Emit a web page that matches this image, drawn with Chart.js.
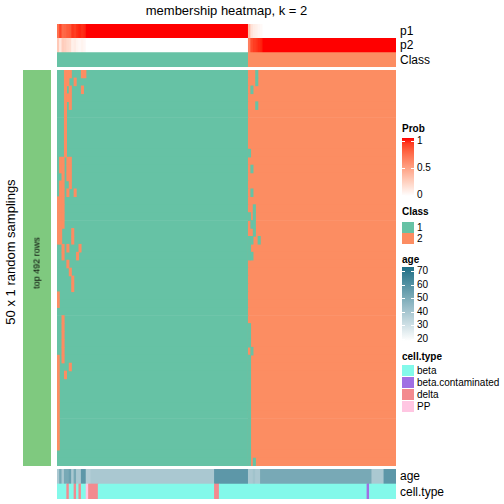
<!DOCTYPE html>
<html>
<head>
<meta charset="utf-8">
<script src="https://cdn.jsdelivr.net/npm/chart.js@4.4.1/dist/chart.umd.min.js"></script>
<style>
  body { margin: 0; width: 504px; height: 504px; background: #fff; position: relative; overflow: hidden;
         font-family: "Liberation Sans", Arial, Helvetica, sans-serif; color: #000; }
  canvas { position: absolute; }
  .t { position: absolute; white-space: nowrap; line-height: 1; }
  .box { position: absolute; }
</style>
</head>
<body>
<canvas id="cTop"  width="339" height="43"  style="left:57px;top:24px"></canvas>
<canvas id="cMain" width="339" height="396" style="left:57px;top:70px"></canvas>
<canvas id="cBot"  width="339" height="30"  style="left:57px;top:469px"></canvas>
<canvas id="cSide" width="28"  height="396" style="left:23px;top:70px"></canvas>
<script>
// ---- data ---------------------------------------------------------------
const N_COLS = 140;
const CLASS_COUNTS = [79, 61];          // samples in class 1, class 2 (left to right)

// membership probability per sample, as [value, run length]
const p1Runs = [[0.72,1],[0.88,1],[0.74,1],[0.76,1],[0.8,1],[0.82,1],[0.92,1],[0.9,1],
                [0.94,1],[0.96,1],[0.94,1],[0.96,1],[1,67],
                [0.35,1],[0.15,1],[0.1,1],[0.08,1],[0.05,1],[0.03,1],[0,55]];
const p2Runs = [[0.28,1],[0.12,1],[0.26,1],[0.24,1],[0.2,1],[0.18,1],[0.08,1],[0.1,1],
                [0.06,1],[0.04,1],[0.06,1],[0.04,1],[0,67],
                [0.65,1],[0.85,1],[0.9,1],[0.92,1],[0.95,1],[0.97,1],[1,55]];

// age per sample, as [age, run length]
const ageRuns = [[39,1],[50,1],[39,1],[50,2],[53,1],[39,1],[50,1],[39,2],[56,2],[37,2],
                 [39,51],[56,14],[39,2],[41,1],[39,2],[50,46],[39,5],[56,5]];

// cell type per sample, as [type, run length]
const cellRuns = [["beta",4],["delta",1],["beta",2],["delta",1],["beta",1],["delta",1],
                  ["beta",2],["PP",1],["delta",4],["beta",48],["delta",2],["beta",61],
                  ["beta.contaminated",1],["beta",11]];

// per random sampling (row): samples whose class differs from the consensus
const rowFlips = [
  [3,4,5,10,11,82], [3,4,7,82], [3,5,10,80], [3,4,5], [3,5,82],
  [3], [3], [3], [3], [3],
  [3,79], [1,2,4,5], [1,2,4,5,80], [2,4,5], [1,2,5],
  [1,2,4,7,80], [0,1,2], [0,1,2,81], [0,1,2,79,81], [0,1,2,80,81],
  [0,1,6,81], [0,1,6,79,80,83], [2,4,9,79], [2,8,79,80], [4],
  [5], [6], [6], [0], [0],
  [], [2], [2,79], [2,79], [2,79],
  [2,80], [0,2,79], [0,5,79], [0,3,79], [0,79],
  [0,79], [0,79], [0,79], [0,79], [0,79],
  [0,79], [0,79], [0,79], [79], [79,81]
];

const CLASS_COLORS = { 1: "#66C2A5", 2: "#FC8D62" };
const CELL_COLORS = { "beta": "#83F9EA", "beta.contaminated": "#A06FE4", "delta": "#F38A8F", "PP": "#FFC6E2" };
const SIDE_COLOR = "#7FC97F";

// ---- colour ramps ---------------------------------------------------------
function toLab(hex) {
  const c = [1, 3, 5].map(i => parseInt(hex.substr(i, 2), 16) / 255)
    .map(v => v <= 0.04045 ? v / 12.92 : Math.pow((v + 0.055) / 1.055, 2.4));
  const X = (0.4124 * c[0] + 0.3576 * c[1] + 0.1805 * c[2]) / 0.95047;
  const Y = 0.2126 * c[0] + 0.7152 * c[1] + 0.0722 * c[2];
  const Z = (0.0193 * c[0] + 0.1192 * c[1] + 0.9505 * c[2]) / 1.08883;
  const f = t => t > 0.008856 ? Math.cbrt(t) : 7.787 * t + 16 / 116;
  return [116 * f(Y) - 16, 500 * (f(X) - f(Y)), 200 * (f(Y) - f(Z))];
}
function fromLab([L, a, b]) {
  const fy = (L + 16) / 116, fx = fy + a / 500, fz = fy - b / 200;
  const inv = t => t ** 3 > 0.008856 ? t ** 3 : (t - 16 / 116) / 7.787;
  const X = inv(fx) * 0.95047, Y = inv(fy), Z = inv(fz) * 1.08883;
  const lin = [3.2406 * X - 1.5372 * Y - 0.4986 * Z,
               -0.9689 * X + 1.8758 * Y + 0.0415 * Z,
               0.0557 * X - 0.2040 * Y + 1.0570 * Z];
  const s = v => { v = Math.min(1, Math.max(0, v));
    return Math.round(255 * (v <= 0.0031308 ? 12.92 * v : 1.055 * Math.pow(v, 1 / 2.4) - 0.055)); };
  return `rgb(${s(lin[0])},${s(lin[1])},${s(lin[2])})`;
}
const LAB_W = toLab("#FFFFFF"), LAB_R = toLab("#FF0000");
const probColor = p => fromLab(LAB_W.map((w, i) => w + (LAB_R[i] - w) * p));

const AGE_MIN = 20, AGE_MAX = 70, AGE_TOP = [30, 111, 134];
function ageColor(a) {
  const t = (a - AGE_MIN) / (AGE_MAX - AGE_MIN);
  const c = AGE_TOP.map(v => Math.round(255 - (255 - v) * t));
  return `rgb(${c.join(",")})`;
}

// ---- build bar tables -------------------------------------------------
function runSegments(runs, row, kind) {
  const segs = []; let start = 0;
  runs.forEach(([v, n]) => { segs.push({ x: [start, start + n], y: row, v, kind }); start += n; });
  return segs;
}
function classSegments(row) {
  const segs = []; let start = 0;
  CLASS_COUNTS.forEach((n, k) => { segs.push({ x: [start, start + n], y: row, v: k + 1, kind: "class" }); start += n; });
  return segs;
}

const topLabels = ["p1", "p2", "Class"];
const topPts = [...runSegments(p1Runs, "p1", "prob"), ...runSegments(p2Runs, "p2", "prob"), ...classSegments("Class")];

const rowLabels = rowFlips.map((_, i) => "sampling " + (i + 1));
const mainPts = [];
rowLabels.forEach(r => mainPts.push(...classSegments(r)));
rowFlips.forEach((cols, i) => cols.forEach(c =>
  mainPts.push({ x: [c, c + 1], y: rowLabels[i], v: c < CLASS_COUNTS[0] ? 2 : 1, kind: "class" })));

const botLabels = ["age", "cell.type"];
const botPts = [...runSegments(ageRuns, "age", "age"), ...runSegments(cellRuns, "cell.type", "cell")];

function cellColor(raw) {
  if (!raw) return "#000";
  if (raw.kind === "prob") return probColor(raw.v);
  if (raw.kind === "class") return CLASS_COLORS[raw.v];
  if (raw.kind === "age") return ageColor(raw.v);
  if (raw.kind === "cell") return CELL_COLORS[raw.v];
  return SIDE_COLOR;
}

function heatChart(id, labels, points, xMax) {
  return new Chart(document.getElementById(id), {
    type: "bar",
    data: {
      labels,
      datasets: [{
        data: points,
        backgroundColor: ctx => cellColor(ctx.raw),
        borderWidth: 0, categoryPercentage: 1, barPercentage: 1, grouped: false,
      }]
    },
    options: {
      indexAxis: "y", responsive: false, animation: false, events: [],
      layout: { padding: 0 },
      plugins: { legend: { display: false }, tooltip: { enabled: false } },
      scales: {
        x: { type: "linear", min: 0, max: xMax, display: false },
        y: { display: false }
      }
    }
  });
}

heatChart("cTop", topLabels, topPts, N_COLS);
heatChart("cMain", rowLabels, mainPts, N_COLS);
heatChart("cBot", botLabels, botPts, N_COLS);
heatChart("cSide", ["top 492 rows"], [{ x: [0, 1], y: "top 492 rows", kind: "side" }], 1);

// ---- text and legends -------------------------------------------------
function text(str, x, y, opts = {}) {
  const d = document.createElement("div");
  d.className = "t";
  d.textContent = str;
  d.style.left = x + "px"; d.style.top = y + "px";
  d.style.fontSize = (opts.size || 10) + "px";
  if (opts.bold) d.style.fontWeight = "bold";
  const tx = opts.center ? "-50%" : "0";
  d.style.transform = `translate(${tx},-50%)` + (opts.rotate ? ` rotate(${opts.rotate}deg)` : "");
  document.body.appendChild(d);
}
function box(x, y, w, h, bg) {
  const d = document.createElement("div");
  d.className = "box";
  Object.assign(d.style, { left: x + "px", top: y + "px", width: w + "px", height: h + "px", background: bg });
  document.body.appendChild(d);
}

text("membership heatmap, k = 2", 226.5, 10, { size: 13, center: true });
text("50 x 1 random samplings", 10, 252, { size: 13, center: true, rotate: -90 });
text("top 492 rows", 37, 263, { size: 9, center: true, rotate: -90 });

[["p1", 31], ["p2", 45], ["Class", 60], ["age", 476], ["cell.type", 491.5]]
  .forEach(([s, y]) => text(s, 400, y, { size: 12 }));

// Prob legend
text("Prob", 402, 129, { bold: true });
const probStops = [];
for (let i = 0; i <= 10; i++) probStops.push(`${probColor(1 - i / 10)} ${i * 10}%`);
box(402, 138, 12, 58, `linear-gradient(${probStops.join(",")})`);
[["1", 1, 141], ["0.5", 0.5, 168], ["0", 0, 195]].forEach(([s, v, y]) => {
  text(s, 417, y);
  box(402, y, 3, 1, "#fff"); box(411, y, 3, 1, "#fff");
});

// Class legend
text("Class", 402, 212, { bold: true });
box(402, 222, 12, 11, CLASS_COLORS[1]); text("1", 417, 228);
box(402, 233, 12, 11, CLASS_COLORS[2]); text("2", 417, 239);

// age legend
text("age", 402, 260, { bold: true });
const ageStops = [];
for (let i = 0; i <= 10; i++) ageStops.push(`${ageColor(AGE_MAX - i * (AGE_MAX - AGE_MIN) / 10)} ${i * 10}%`);
box(402, 267, 12, 74, `linear-gradient(${ageStops.join(",")})`);
[70, 60, 50, 40, 30, 20].forEach((v, i) => {
  const y = 271 + i * 13.6;
  text(String(v), 417, y);
  box(402, y, 3, 1, "#fff"); box(411, y, 3, 1, "#fff");
});

// cell.type legend
text("cell.type", 402, 357, { bold: true });
[["beta", 365], ["beta.contaminated", 377], ["delta", 389], ["PP", 401]].forEach(([s, y]) => {
  box(402, y, 12, 11, CELL_COLORS[s]);
  text(s, 417, y + 6);
});
</script>
</body>
</html>
